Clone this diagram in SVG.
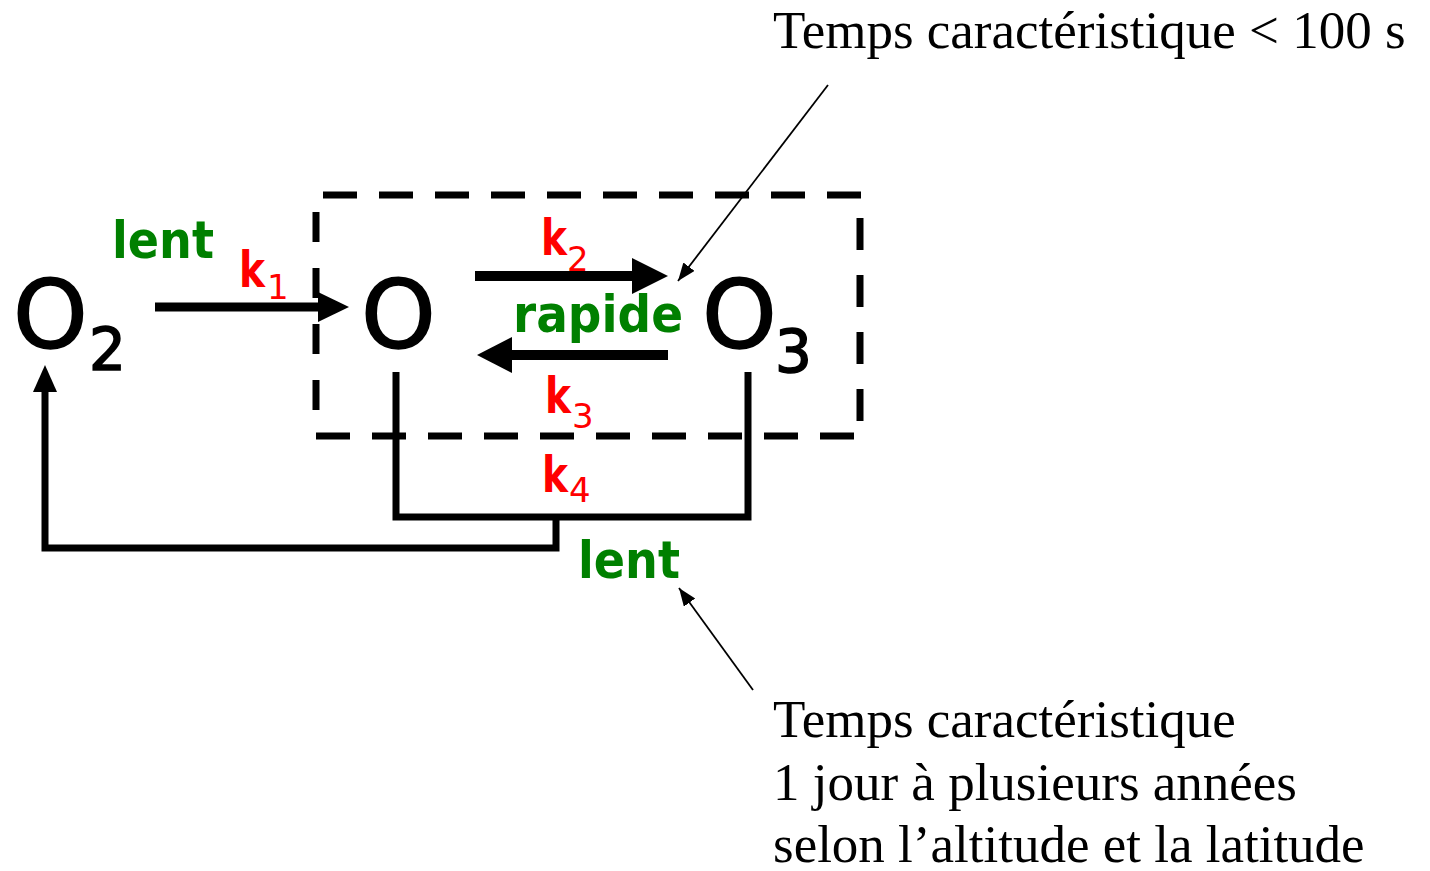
<svg xmlns="http://www.w3.org/2000/svg" width="1430" height="871" viewBox="0 0 1430 871">
<style>
.sp{font-family:"DejaVu Sans",Verdana,sans-serif;fill:#000;stroke:#000;stroke-width:1.6}
.big{font-size:95px}
.sub{font-size:58px}
.gr{font-family:"DejaVu Sans",Verdana,sans-serif;font-weight:bold;font-size:52px;fill:#008000}
.k{font-family:"DejaVu Sans",Verdana,sans-serif;font-weight:bold;font-size:50px;fill:#ff0000}
.ks{font-family:"DejaVu Sans",Verdana,sans-serif;font-size:34px;fill:#ff0000}
.tm{font-family:"Liberation Serif","Times New Roman",serif;font-size:53px;fill:#000}
.dash{stroke:#000;stroke-width:7;fill:none}
.thick{stroke:#000;fill:none}
.thin{stroke:#000;stroke-width:1.8;fill:none}
</style>
<defs>
<marker id="ah" markerUnits="userSpaceOnUse" markerWidth="20" markerHeight="16" refX="18" refY="7" orient="auto">
<path d="M0,0 L18,7 L0,14 z" fill="#000"/>
</marker>
</defs>
<rect width="1430" height="871" fill="#fff"/>
<g id="box">
<path class="dash" d="M323,195 H862" stroke-dasharray="34 22"/>
<path class="dash" d="M860,218 V436" stroke-dasharray="32 25"/>
<path class="dash" d="M316,436 H862" stroke-dasharray="34 22"/>
<path class="dash" d="M316,212 V436" stroke-dasharray="30 26"/>
</g>
<g id="connectors">
<line class="thick" x1="155" y1="307" x2="320" y2="307" stroke-width="9"/>
<polygon points="318,292 349,307 318,322" fill="#000"/>
<line class="thick" x1="475" y1="276" x2="634" y2="276" stroke-width="10"/>
<polygon points="632,258 668,276 632,294" fill="#000"/>
<line class="thick" x1="668" y1="355" x2="510" y2="355" stroke-width="10"/>
<polygon points="512,337 477,355 512,373" fill="#000"/>
<path class="thick" stroke-width="7" d="M396,372 V517 H748 V372"/>
<path class="thick" stroke-width="7" d="M556,517 V548 H45 V388"/>
<polygon points="33,392 45,365 57,392" fill="#000"/>
<line class="thin" x1="828" y1="85" x2="678" y2="281" marker-end="url(#ah)"/>
<line class="thin" x1="753" y1="690" x2="679" y2="588" marker-end="url(#ah)"/>
</g>
<g id="O2">
<text class="sp big" x="13" y="348">O</text>
<text class="sp sub" x="89" y="370">2</text>
</g>
<g id="O">
<text class="sp big" x="361" y="348">O</text>
</g>
<g id="O3">
<text class="sp big" x="702" y="348">O</text>
<text class="sp sub" x="775" y="372">3</text>
</g>
<g id="labels">
<text class="gr" x="112" y="258" textLength="102" lengthAdjust="spacingAndGlyphs">lent</text>
<text class="k" x="239" y="287" textLength="26" lengthAdjust="spacingAndGlyphs">k</text>
<text class="ks" x="267" y="299">1</text>
<text class="k" x="541" y="255" textLength="26" lengthAdjust="spacingAndGlyphs">k</text>
<text class="ks" x="567" y="271">2</text>
<text class="gr" x="513" y="332" textLength="170" lengthAdjust="spacingAndGlyphs">rapide</text>
<text class="k" x="545" y="413" textLength="26" lengthAdjust="spacingAndGlyphs">k</text>
<text class="ks" x="572" y="428">3</text>
<text class="k" x="542" y="492" textLength="26" lengthAdjust="spacingAndGlyphs">k</text>
<text class="ks" x="569" y="502">4</text>
<text class="gr" x="578" y="578" textLength="102" lengthAdjust="spacingAndGlyphs">lent</text>
</g>
<g id="note-top">
<text class="tm" x="773" y="48">Temps caractéristique &lt; 100 s</text>
</g>
<g id="note-bottom">
<text class="tm" x="773" y="737">Temps caractéristique</text>
<text class="tm" x="773" y="800">1 jour à plusieurs années</text>
<text class="tm" x="773" y="862">selon l’altitude et la latitude</text>
</g>
</svg>
